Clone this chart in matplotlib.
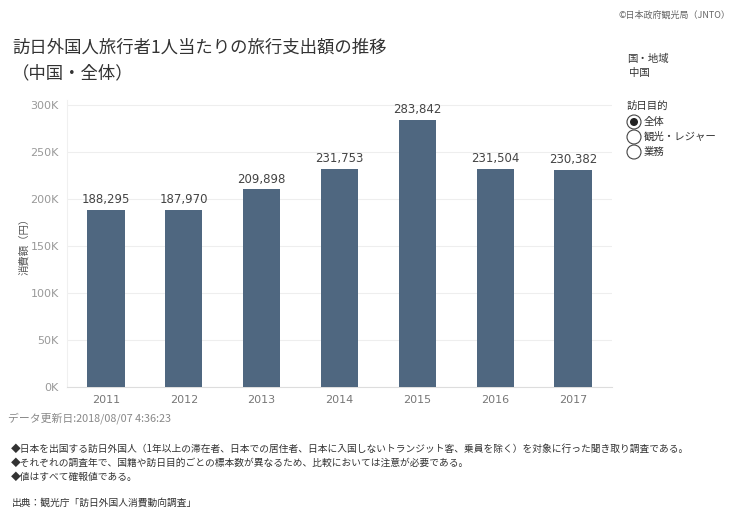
import matplotlib
matplotlib.use("Agg")
from matplotlib import pyplot as plt
from matplotlib.patches import Circle

plt.rcParams['font.family'] = ['Noto Sans CJK JP', 'DejaVu Sans']

years = ['2011', '2012', '2013', '2014', '2015', '2016', '2017']
spend = [188295, 187970, 209898, 231753, 283842, 231504, 230382]
yticks = [0, 50000, 100000, 150000, 200000, 250000, 300000]
ytick_labels = ['0K', '50K', '100K', '150K', '200K', '250K', '300K']

title = '訪日外国人旅行者1人当たりの旅行支出額の推移'
subtitle = '（中国・全体）'
purposes = ['全体', '観光・レジャー', '業務']
notes = [
    '◆日本を出国する訪日外国人（1年以上の滞在者、日本での居住者、日本に入国しないトランジット客、乗員を除く）を対象に行った聞き取り調査である。',
    '◆それぞれの調査年で、国籍や訪日目的ごとの標本数が異なるため、比較においては注意が必要である。',
    '◆値はすべて確報値である。',
]
source = '出典：観光庁「訪日外国人消費動向調査」'

W, H = 740, 529
fig = plt.figure(figsize=(W / 100, H / 100), dpi=100)
fig.patch.set_facecolor('white')

def px(x, y):
    return x / W, 1 - y / H

ax = fig.add_axes([67 / W, 1 - 387 / H, (612 - 67) / W, (387 - 100) / H])
x = range(len(years))
bars = ax.bar(x, spend, width=0.48, color='#4f6780', zorder=3)
for i, v in enumerate(spend):
    ax.text(i, v + 4000, f'{v:,}', ha='center', va='bottom', fontsize=8.5,
            color='#444444', family=['DejaVu Sans'])

ax.set_xlim(-0.5, len(years) - 0.5)
ax.set_ylim(0, 305000)
ax.set_xticks(list(x))
ax.set_xticklabels(years, fontsize=8, color='#777777', family=['DejaVu Sans'])
ax.set_yticks(yticks)
ax.set_yticklabels(ytick_labels, fontsize=8, color='#999999', family=['DejaVu Sans'])
ax.tick_params(length=0, pad=6)
ax.grid(axis='y', color='#eeeeee', linewidth=0.8, zorder=0)
for s in ['top', 'right']:
    ax.spines[s].set_visible(False)
ax.spines['left'].set_color('#f0f0f0')
ax.spines['bottom'].set_color('#dddddd')
ax.set_ylabel('消費額（円）', fontsize=7.5, color='#555555', labelpad=1)

# header
fig.text(*px(730, 15), '©日本政府観光局（JNTO）', ha='right', va='center',
         fontsize=6.5, color='#666666')
fig.text(*px(12, 48), title, ha='left', va='center', fontsize=12.5, color='#333333')
fig.text(*px(12, 73), subtitle, ha='left', va='center', fontsize=12.5, color='#333333')

# filter panel
fig.text(*px(627, 59), '国・地域', ha='left', va='center', fontsize=7.5, color='#333333')
fig.text(*px(629, 73), '中国', ha='left', va='center', fontsize=7.5, color='#333333')
fig.text(*px(627, 106), '訪日目的', ha='left', va='center', fontsize=7.5, color='#333333')
for k, lab in enumerate(purposes):
    cy = 122 + k * 15
    fig.patches.append(Circle((634, H - cy), 7, transform=None, facecolor='white',
                              edgecolor='#444444', linewidth=0.8))
    if k == 0:
        fig.patches.append(Circle((634, H - cy), 4, transform=None,
                                  facecolor='#222222', edgecolor='none'))
    fig.text(*px(644, cy), lab, ha='left', va='center', fontsize=7.5, color='#333333')

# footer
fig.text(*px(8, 418), 'データ更新日:2018/08/07 4:36:23', ha='left', va='center',
         fontsize=7.8, color='#888888')
for k, line in enumerate(notes):
    fig.text(*px(11, 449 + k * 14), line, ha='left', va='center', fontsize=7,
             color='#333333')
fig.text(*px(12, 503), source, ha='left', va='center', fontsize=7, color='#333333')

fig.savefig('out.png', dpi=100, facecolor='white')
